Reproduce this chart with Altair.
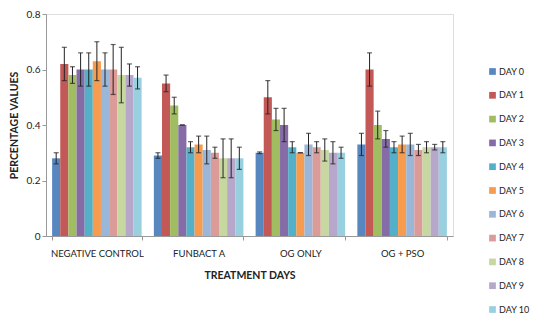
import altair as alt
import pandas as pd

groups = ["NEGATIVE CONTROL", "FUNBACT A", "OG ONLY", "OG + PSO"]
days = ["DAY 0", "DAY 1", "DAY  2", "DAY 3", "DAY 4", "DAY 5", "DAY 6", "DAY 7", "DAY 8", "DAY 9", "DAY 10"]
colors = ["#4F81BD", "#C0504D", "#9BBB59", "#8064A2", "#4BACC6", "#F79646",
          "#95B3D7", "#D99694", "#C3D69B", "#B3A2C7", "#93CDDD"]

neg_control = [0.28, 0.62, 0.58, 0.60, 0.60, 0.63, 0.60, 0.60, 0.58, 0.58, 0.57]
neg_control_err = [0.02, 0.06, 0.03, 0.06, 0.06, 0.07, 0.06, 0.09, 0.10, 0.04, 0.04]
funbact = [0.29, 0.55, 0.47, 0.40, 0.32, 0.33, 0.31, 0.30, 0.28, 0.28, 0.28]
funbact_err = [0.01, 0.03, 0.03, 0.0, 0.02, 0.03, 0.05, 0.02, 0.07, 0.07, 0.04]
og_only = [0.30, 0.50, 0.42, 0.40, 0.32, 0.30, 0.33, 0.32, 0.31, 0.30, 0.30]
og_only_err = [0.003, 0.06, 0.04, 0.06, 0.02, 0.0, 0.04, 0.02, 0.04, 0.04, 0.02]
og_pso = [0.33, 0.60, 0.40, 0.35, 0.32, 0.33, 0.33, 0.31, 0.32, 0.32, 0.32]
og_pso_err = [0.04, 0.06, 0.05, 0.03, 0.02, 0.03, 0.04, 0.02, 0.02, 0.01, 0.02]

series = [(neg_control, neg_control_err), (funbact, funbact_err),
          (og_only, og_only_err), (og_pso, og_pso_err)]
rows = []
for g, (vals, errs) in zip(groups, series):
    for d, v, e in zip(days, vals, errs):
        rows.append({"group": g, "day": d, "value": v, "lo": v - e, "hi": v + e})
df = pd.DataFrame(rows)

FONT = "Lato"

x_enc = alt.X("group:N", sort=groups,
              scale=alt.Scale(paddingInner=0.12, paddingOuter=0.06),
              axis=alt.Axis(title="TREATMENT DAYS", labelAngle=0, tickBand="extent",
                            labelFontSize=9.5, titleFontSize=10.5, titleFontWeight="bold",
                            labelColor="#222", titleColor="#222", domainColor="#999",
                            tickColor="#999", tickSize=4, labelPadding=8, titlePadding=13))
xoff = alt.XOffset("day:N", sort=days, scale=alt.Scale(paddingInner=0, paddingOuter=0))

bars = alt.Chart(df).mark_bar(opacity=0.95).encode(
    x=x_enc,
    xOffset=xoff,
    y=alt.Y("value:Q", scale=alt.Scale(domain=[0, 0.8]),
            axis=alt.Axis(title="PERCENTAGE VALUES", values=[0, 0.1, 0.2, 0.3, 0.4, 0.5, 0.6, 0.7, 0.8],
                          labelExpr="datum.value == 0 ? '0' : format(datum.value, '.1f')",
                          grid=False, labelFontSize=10, titleFontSize=10.5, titleFontWeight="bold",
                          labelColor="#222", titleColor="#222", domainColor="#999",
                          tickColor="#999", tickSize=4, titlePadding=7)),
    color=alt.Color("day:N", sort=days, scale=alt.Scale(domain=days, range=colors),
                    legend=alt.Legend(title=None, orient="none", legendX=442, legendY=53,
                                      symbolType="square", symbolSize=45, symbolStrokeWidth=0,
                                      labelFontSize=9, labelOffset=2, labelColor="#222",
                                      rowPadding=13.8, labelFont=FONT)),
)

err = alt.Chart(df).mark_rule(color="#222", strokeWidth=1).encode(
    x=alt.X("group:N", sort=groups), xOffset=xoff,
    y="lo:Q", y2="hi:Q")

cap_lo = alt.Chart(df).mark_tick(color="#222", thickness=1.2, size=5).encode(
    x=alt.X("group:N", sort=groups), xOffset=xoff, y="lo:Q")
cap_hi = alt.Chart(df).mark_tick(color="#222", thickness=1.2, size=5).encode(
    x=alt.X("group:N", sort=groups), xOffset=xoff, y="hi:Q")

chart = alt.layer(bars, err, cap_lo, cap_hi).properties(
    width=407, height=222,
    autosize=alt.AutoSizeParams(type="none"),
    padding={"left": 38, "top": 6, "right": 82, "bottom": 81}
).configure_view(stroke=None).configure_axis(
    labelFont=FONT, titleFont=FONT
).configure(font=FONT, background="white")

chart.save("out.html", embed_options={"renderer": "svg", "actions": False})
